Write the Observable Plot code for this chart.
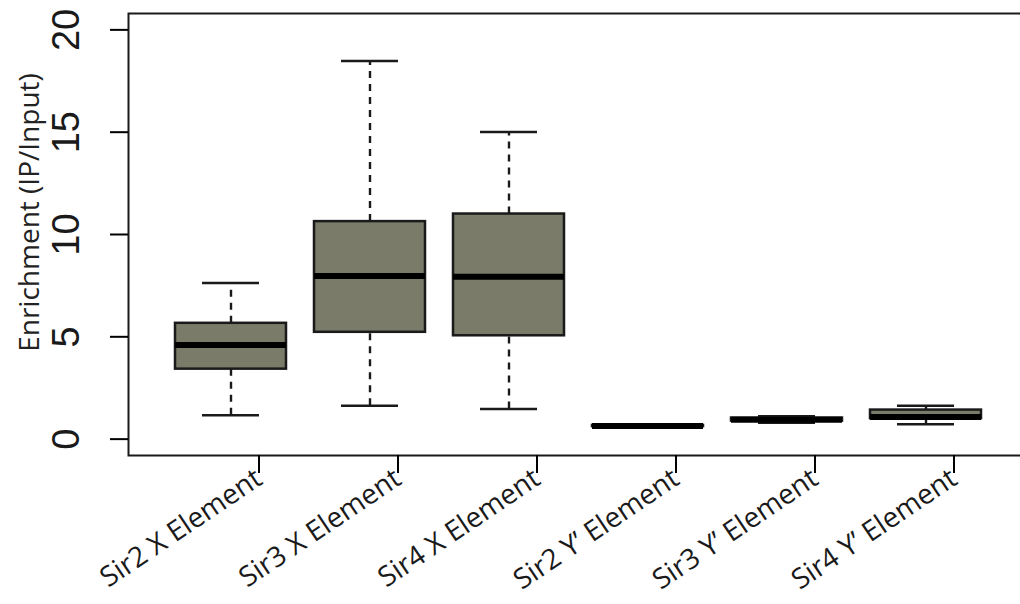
<!DOCTYPE html>
<html>
<head>
<meta charset="utf-8">
<script src="https://cdn.jsdelivr.net/npm/d3@7"></script>
<script src="https://cdn.jsdelivr.net/npm/@observablehq/plot@0.6"></script>
<style>
  html, body { margin: 0; padding: 0; background: #fff; }
  #chart { width: 1020px; height: 604px; overflow: hidden; }
</style>
</head>
<body>
<div id="chart"></div>
<script>
const categories = ["Sir2 X Element", "Sir3 X Element", "Sir4 X Element", "Sir2 Y’ Element", "Sir3 Y’ Element", "Sir4 Y’ Element"];
const lowerWhisker = [1.17, 1.63, 1.47, 0.58, 0.80, 0.73];
const q1 = [3.42, 5.22, 5.05, 0.61, 0.88, 1.00];
const median = [4.60, 7.97, 7.94, 0.64, 0.95, 1.08];
const q3 = [5.66, 10.63, 11.00, 0.67, 1.03, 1.42];
const upperWhisker = [7.63, 18.48, 15.01, 0.70, 1.12, 1.63];
const yTicks = [0, 5, 10, 15, 20];
const yTitle = "Enrichment (IP/Input)";

const data = categories.map((c, i) => ({
  cat: c, lo: lowerWhisker[i], q1: q1[i], med: median[i], q3: q3[i], hi: upperWhisker[i]
}));

const boxFill = "#7a7b69";
const ink = "#1a1a1a";

const chart = Plot.plot({
  width: 1020,
  height: 604,
  marginLeft: 128,
  marginRight: -9,
  marginTop: 13,
  marginBottom: 149,
  style: {background: "#fff"},
  x: {type: "band", domain: categories, paddingInner: 0.2, paddingOuter: 0.34, axis: null},
  y: {domain: [-0.8, 20.8], axis: null},
  marks: [
    Plot.frame({stroke: ink, strokeWidth: 2}),
    // whiskers (dashed)
    Plot.ruleX(data, {x: "cat", y1: "q3", y2: "hi", stroke: ink, strokeWidth: 2.4, strokeDasharray: "7,6"}),
    Plot.ruleX(data, {x: "cat", y1: "lo", y2: "q1", stroke: ink, strokeWidth: 2.4, strokeDasharray: "7,6"}),
    // whisker caps
    Plot.tickY(data, {x: "cat", y: "hi", stroke: ink, strokeWidth: 2.4, inset: 27}),
    Plot.tickY(data, {x: "cat", y: "lo", stroke: ink, strokeWidth: 2.4, inset: 27}),
    // boxes
    Plot.barY(data, {x: "cat", y1: "q1", y2: "q3", fill: boxFill, stroke: ink, strokeWidth: 2.5}),
    // medians
    Plot.tickY(data, {x: "cat", y: "med", stroke: "#000", strokeWidth: 6}),
    // axes
    Plot.axisY({
      ticks: yTicks, tickSize: 18, tickRotate: -90, tickPadding: 32,
      textAnchor: "middle", lineAnchor: "bottom",
      fontSize: 38, fontFamily: "Liberation Sans", fill: ink,
      label: null
    }),
    Plot.axisX({
      tickSize: 18, tickRotate: -34, tickPadding: 2,
      textAnchor: "end", lineAnchor: "middle", dx: 28,
      fontSize: 28, fontFamily: "Open Sans", fill: ink,
      label: null
    }),
    Plot.text([yTitle], {
      frameAnchor: "left", rotate: -90, dx: -98, dy: -22, textAnchor: "middle",
      fontSize: 28, fontFamily: "Open Sans", fill: "#222"
    })
  ]
});
chart.querySelectorAll("g[aria-label='y-axis tick'] path, g[aria-label='x-axis tick'] path").forEach(p => p.setAttribute("stroke-width", "2"));
document.getElementById("chart").appendChild(chart);
</script>
</body>
</html>
